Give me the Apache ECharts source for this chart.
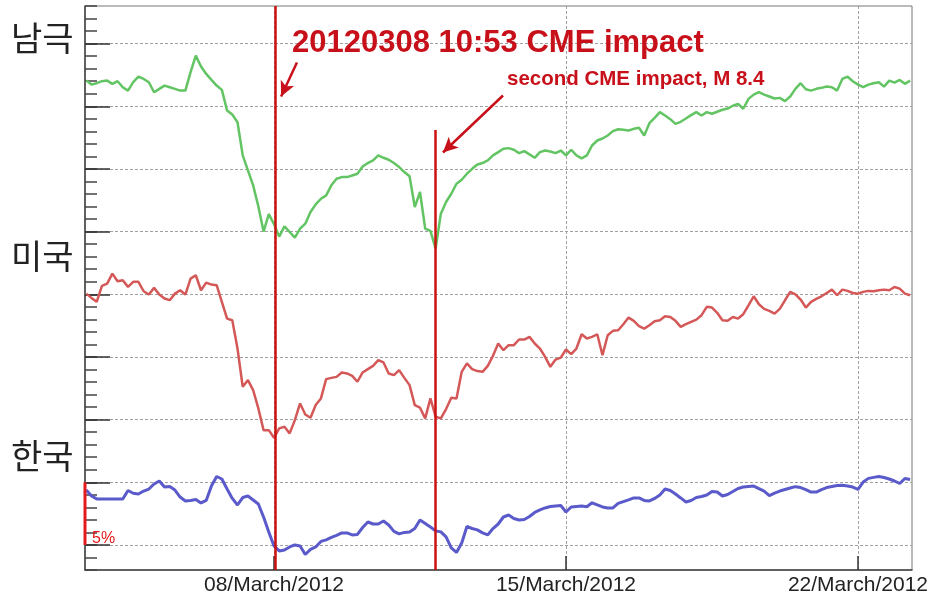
<!DOCTYPE html>
<html>
<head>
<meta charset="utf-8">
<title>CME impact 2012</title>
<script src="https://cdn.jsdelivr.net/npm/echarts@6/dist/echarts.min.js"></script>
<style>
  html, body { margin: 0; padding: 0; background: #fff; }
  #chart { width: 931px; height: 597px; }
</style>
</head>
<body>
<div id="chart"></div>
<script>
// 샘플 시간: 3월 3.5일부터 3시간 간격 (day of March 2012)
const t0 = 3.5
const dt = 0.125

// 남극 (green), 미국 (red), 한국 (blue) — 화면 배치용 % 값
const green = [
  37.05, 36.73, 36.84, 37.00, 37.05, 36.79, 37.00, 36.52, 36.25, 36.92,
  37.37, 37.18, 36.92, 36.12, 36.39, 36.65, 36.52, 36.39, 36.25, 36.25,
  37.72, 39.04, 38.17, 37.58, 37.11, 36.65, 36.31, 34.66, 34.34, 33.73,
  31.08, 29.88, 28.69, 27.00, 25.00, 26.40, 25.60, 24.60, 25.42, 24.97,
  24.52, 25.23, 25.63, 26.56, 27.17, 27.62, 27.89, 28.69, 29.22, 29.35,
  29.35, 29.48, 29.62, 30.20, 30.47, 30.68, 31.08, 30.89, 30.73, 30.47,
  30.15, 29.75, 29.41, 26.96, 28.16, 25.23, 25.05, 23.64, 26.43, 27.36,
  28.02, 28.82, 29.14, 29.62, 30.01, 30.36, 30.47, 30.68, 31.08, 31.34,
  31.61, 31.66, 31.53, 31.26, 31.42, 31.16, 30.89, 31.34, 31.47, 31.39,
  31.26, 31.47, 31.08, 31.53, 31.08, 30.84, 31.08, 31.87, 32.27, 32.43,
  32.67, 33.02, 33.17, 33.12, 33.07, 33.20, 33.28, 32.67, 33.65, 34.08,
  34.53, 34.26, 33.97, 33.60, 33.76, 34.02, 34.29, 34.53, 34.26, 34.53,
  34.40, 34.56, 34.72, 34.82, 35.04, 35.19, 34.80, 35.59, 35.93, 36.12,
  35.93, 35.78, 35.62, 35.67, 35.41, 35.78, 36.39, 36.84, 36.36, 36.25,
  36.39, 36.47, 36.57, 36.52, 36.25, 37.18, 37.37, 37.00, 36.73, 36.52,
  36.73, 36.84, 36.92, 36.57, 37.05, 36.89, 37.10, 36.79, 37.05
]
const red = [
  20.05, 19.71, 19.40, 20.67, 20.85, 21.65, 21.04, 21.12, 20.59, 20.99,
  20.99, 20.24, 19.98, 20.51, 19.98, 19.66, 19.53, 20.05, 20.32, 19.98,
  21.25, 21.52, 20.32, 20.93, 20.77, 20.72, 19.39, 18.06, 17.93, 15.67,
  12.62, 13.15, 12.35, 10.89, 9.16, 9.16, 8.55, 9.30, 9.43, 8.90,
  9.96, 11.29, 10.41, 10.15, 11.16, 11.69, 13.23, 13.33, 13.41, 13.76,
  13.68, 13.49, 13.02, 13.76, 14.03, 14.29, 14.74, 14.56, 13.68, 13.55,
  13.95, 13.33, 12.75, 11.16, 10.95, 10.10, 11.69, 10.23, 10.10, 10.84,
  11.74, 11.69, 13.81, 14.48, 14.03, 13.87, 13.81, 14.29, 15.09, 16.07,
  15.54, 15.94, 15.94, 16.39, 16.39, 16.60, 16.07, 15.67, 15.01, 14.21,
  14.79, 14.95, 15.59, 15.22, 15.67, 16.81, 16.47, 16.60, 16.81, 15.14,
  16.73, 17.08, 17.13, 17.61, 18.14, 17.88, 17.45, 17.26, 17.53, 17.85,
  17.93, 18.25, 18.19, 17.88, 17.40, 17.61, 17.80, 17.98, 18.33, 19.00,
  18.94, 18.52, 17.93, 17.88, 18.19, 18.06, 18.41, 19.12, 19.84, 19.20,
  18.83, 18.67, 18.46, 18.83, 19.52, 20.19, 20.00, 19.58, 18.94, 19.39,
  19.63, 19.84, 20.10, 20.37, 19.92, 20.37, 20.27, 20.10, 20.05, 20.19,
  20.27, 20.24, 20.32, 20.37, 20.32, 20.58, 20.45, 20.05, 19.92
]
const blue = [
  4.38, 3.90, 3.67, 3.67, 3.67, 3.67, 3.67, 3.67, 4.34, 4.12,
  4.06, 4.30, 4.46, 4.86, 5.10, 4.62, 4.66, 4.38, 3.82, 3.51,
  3.55, 3.63, 3.35, 3.55, 4.70, 5.46, 5.26, 4.46, 3.71, 3.19,
  3.78, 3.90, 3.59, 3.27, 2.23, 1.04, -0.08, -0.48, -0.40, -0.16,
  0.00, -0.08, -0.76, -0.36, -0.16, 0.28, 0.40, 0.60, 0.76, 0.96,
  0.96, 0.80, 0.84, 1.39, 1.83, 1.67, 1.67, 1.91, 1.59, 1.08,
  0.88, 1.00, 1.04, 1.31, 1.99, 1.71, 1.43, 1.12, 1.04, 0.64,
  -0.24, -0.60, 0.16, 1.47, 1.31, 1.20, 0.96, 0.80, 1.31, 1.67,
  2.23, 2.39, 2.11, 1.99, 2.03, 2.27, 2.59, 2.79, 2.95, 3.07,
  3.11, 3.15, 2.63, 3.03, 3.07, 3.11, 3.05, 3.36, 3.19, 3.03,
  2.95, 2.95, 3.31, 3.45, 3.59, 3.75, 3.75, 3.55, 3.51, 3.71,
  3.98, 4.46, 4.34, 4.06, 3.75, 3.43, 3.55, 3.78, 3.86, 3.98,
  4.26, 4.22, 3.90, 4.02, 4.26, 4.50, 4.62, 4.66, 4.70, 4.50,
  4.30, 3.94, 4.14, 4.30, 4.42, 4.54, 4.65, 4.58, 4.42, 4.22,
  4.22, 4.42, 4.58, 4.66, 4.74, 4.76, 4.70, 4.62, 4.44, 5.02,
  5.31, 5.39, 5.46, 5.38, 5.26, 5.10, 4.90, 5.30, 5.22
]

// 축 눈금
const tickDays = [8, 15, 22]
const tickLabels = ['08/March/2012', '15/March/2012', '22/March/2012']

// 이벤트 (CME 도달 시각)
const firstImpact = 8.04
const secondImpact = 11.86
const secondImpactTop = 33.1
const scaleBar = [0, 5] // 5% 눈금 막대

// 축 범위
const xMin = 3.469
const xMax = 23.295
const yMin = -2
const yMax = 43
const majorTop = 40
const majorBottom = 0

const days = green.map((_, i) => t0 + i * dt)
const pairs = vals => vals.map((v, i) => [days[i], v])

// 플롯 영역 (px)
const W = 931
const H = 597
const frame = { left: 85, right: 19, top: 6, bottom: 27 }
const plotW = W - frame.left - frame.right
const plotH = H - frame.top - frame.bottom
const pxPerDay = plotW / (xMax - xMin)
const pxPerUnit = plotH / (yMax - yMin)

const redDark = '#c8101a'
const gridColor = '#a0a0a0'
const font = '"Liberation Sans", Arial, sans-serif'
const krFont = '"Noto Sans CJK KR", sans-serif'

let myChart = echarts.init(document.getElementById('chart'))
myChart.setOption({
  animation: false,
  grid: [
    {
      // 외곽 프레임 + 보조 눈금
      left: frame.left, right: frame.right, top: frame.top, bottom: frame.bottom,
      show: true, borderColor: '#777', borderWidth: 1
    },
    {
      // 5% 주 눈금선
      left: frame.left, right: frame.right,
      top: frame.top + (yMax - majorTop) * pxPerUnit,
      bottom: frame.bottom + (majorBottom - yMin) * pxPerUnit
    },
    {
      // 날짜 눈금
      left: frame.left + (tickDays[0] - xMin) * pxPerDay,
      right: W - frame.left - (tickDays[2] - xMin) * pxPerDay,
      top: frame.top, bottom: frame.bottom
    }
  ],
  xAxis: [
    {
      gridIndex: 0, type: 'value', min: xMin, max: xMax,
      axisLine: { show: true, onZero: false, lineStyle: { color: '#444', width: 1.5 } },
      axisTick: { show: false }, axisLabel: { show: false }, splitLine: { show: false }
    },
    {
      gridIndex: 1, type: 'value', min: xMin, max: xMax, show: false
    },
    {
      gridIndex: 2, type: 'value', min: tickDays[0], max: tickDays[2], interval: 7,
      axisLine: { show: false, onZero: false },
      axisTick: { show: true, inside: true, length: 14, lineStyle: { color: '#333', width: 1.5 } },
      splitLine: { show: true, lineStyle: { color: gridColor, width: 1, type: [3, 2] } },
      axisLabel: {
        show: true, showMinLabel: true, showMaxLabel: true, margin: 5,
        fontSize: 21, fontFamily: font, color: '#222',
        formatter: function (value) {
          let idx = tickDays.indexOf(Math.round(value))
          return idx >= 0 ? tickLabels[idx] : ''
        }
      }
    }
  ],
  yAxis: [
    {
      gridIndex: 0, type: 'value', min: yMin, max: yMax, interval: 1,
      axisLine: { show: true, onZero: false, lineStyle: { color: '#444', width: 1.5 } },
      axisTick: { show: true, inside: true, length: 12, lineStyle: { color: '#444', width: 1.5 } },
      axisLabel: { show: false }, splitLine: { show: false }
    },
    {
      gridIndex: 1, type: 'value', min: majorBottom, max: majorTop, interval: 5,
      axisLine: { show: false, onZero: false },
      axisTick: { show: true, inside: true, length: 25, lineStyle: { color: '#333', width: 1.5 } },
      axisLabel: { show: false },
      splitLine: { show: true, lineStyle: { color: gridColor, width: 1, type: [3, 2] } }
    },
    {
      gridIndex: 2, type: 'value', min: yMin, max: yMax, show: false
    }
  ],
  series: [
    {
      name: '남극', type: 'line', xAxisIndex: 0, yAxisIndex: 0, z: 3,
      data: pairs(green), symbol: 'none',
      lineStyle: { color: '#62c462', width: 2.5 }
    },
    {
      name: '미국', type: 'line', xAxisIndex: 0, yAxisIndex: 0, z: 3,
      data: pairs(red), symbol: 'none',
      lineStyle: { color: '#d45858', width: 2.5 }
    },
    {
      name: '한국', type: 'line', xAxisIndex: 0, yAxisIndex: 0, z: 3,
      data: pairs(blue), symbol: 'none',
      lineStyle: { color: '#5a5acb', width: 3 }
    },
    {
      // 5% 막대
      name: 'scale', type: 'line', xAxisIndex: 0, yAxisIndex: 0, z: 5, clip: false,
      data: scaleBar.map(v => [xMin, v]), symbol: 'none',
      lineStyle: { color: '#e3191c', width: 3 }
    },
    {
      // CME 도달 수직선
      name: 'events', type: 'line', xAxisIndex: 0, yAxisIndex: 0, z: 4, data: [],
      markLine: {
        silent: true, symbol: 'none', label: { show: false },
        lineStyle: { color: '#cc1111', width: 2.5, type: 'solid' },
        data: [
          { xAxis: firstImpact },
          [{ coord: [secondImpact, secondImpactTop] }, { coord: [secondImpact, yMin] }]
        ]
      }
    },
    {
      // 화살표
      name: 'arrows', type: 'line', xAxisIndex: 0, yAxisIndex: 0, z: 4, data: [],
      markLine: {
        silent: true, symbol: ['none', 'arrow'], symbolSize: [11, 15],
        label: { show: false },
        lineStyle: { color: redDark, width: 2.5, type: 'solid' },
        data: [
          [{ coord: [8.55, 38.49] }, { coord: [8.17, 35.78] }],
          [{ coord: [13.49, 35.86] }, { coord: [12.05, 31.31] }]
        ]
      }
    }
  ],
  graphic: [
    { type: 'text', x: 11, y: 38, style: { text: '남극', font: '34px ' + krFont, fill: '#222', textVerticalAlign: 'middle' } },
    { type: 'text', x: 11, y: 256, style: { text: '미국', font: '34px ' + krFont, fill: '#222', textVerticalAlign: 'middle' } },
    { type: 'text', x: 11, y: 456, style: { text: '한국', font: '34px ' + krFont, fill: '#222', textVerticalAlign: 'middle' } },
    { type: 'text', x: 292, y: 43, z: 10, style: { text: '20120308 10:53 CME impact', font: 'bold 31px ' + font, fill: redDark, textVerticalAlign: 'middle' } },
    { type: 'text', x: 507, y: 79, z: 10, style: { text: 'second CME impact, M 8.4', font: 'bold 20.5px ' + font, fill: redDark, textVerticalAlign: 'middle' } },
    { type: 'text', x: 92, y: 539, z: 10, style: { text: '5%', font: '16px ' + font, fill: '#e3191c', textVerticalAlign: 'middle' } }
  ]
})
</script>
</body>
</html>
